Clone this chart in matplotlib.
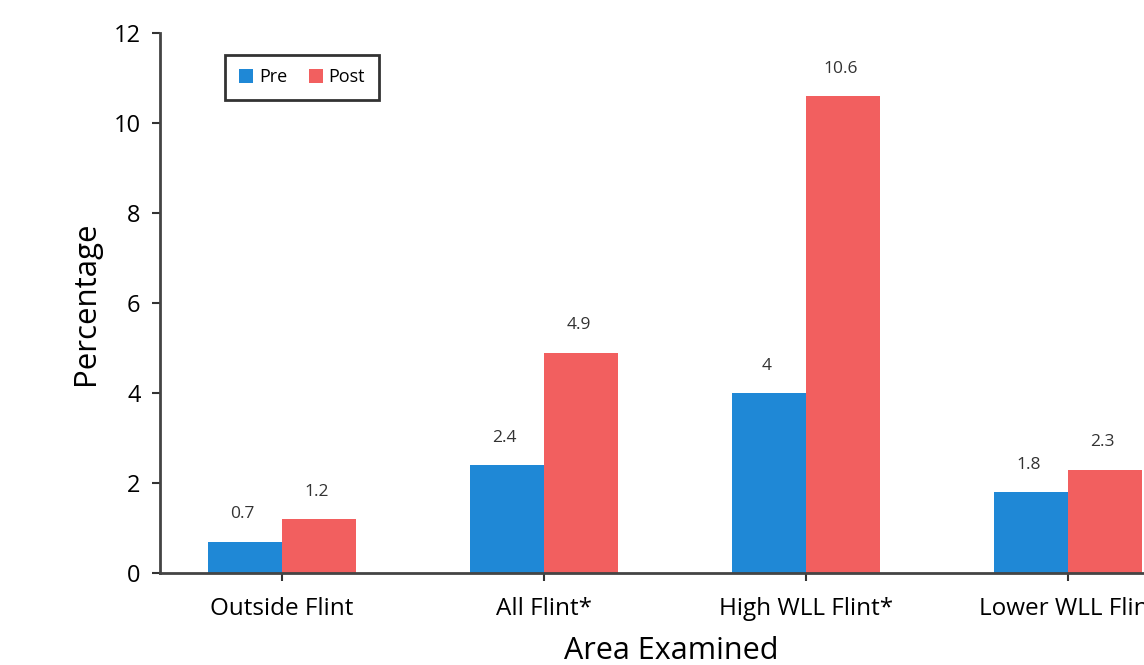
import numpy as np
from matplotlib import pyplot as plt

# ============================== Data =============================== #
categories = ["Outside Flint", "All Flint*", "High WLL Flint*", "Lower WLL Flint"]
pre = [0.7, 2.4, 4.0, 1.8]
post = [1.2, 4.9, 10.6, 2.3]
pre_labels = ["0.7", "2.4", "4", "1.8"]
post_labels = ["1.2", "4.9", "10.6", "2.3"]
# =================================================================== #

plt.rcParams['font.family'] = ['Open Sans', 'DejaVu Sans']
wt = 'medium'

fig = plt.figure(figsize=(11.44, 6.65), dpi=100)
# the plot area runs past the right edge of the figure
ax = fig.add_axes([160 / 1144, 92 / 665, (1182 - 160) / 1144, 540 / 665])

x = np.arange(len(categories))
w = 0.283
c_pre = '#1f88d6'
c_post = '#f25f5f'

ax.bar(x - w / 2, pre, w, color=c_pre, label='Pre')
ax.bar(x + w / 2, post, w, color=c_post, label='Post')

for xi, v, s in zip(x - w / 2, pre, pre_labels):
    ax.annotate(s, (xi, v), xytext=(-2, 14), textcoords='offset points',
                ha='center', va='bottom', fontsize=12.5, fontweight=wt,
                color='#333333')
for xi, v, s in zip(x + w / 2, post, post_labels):
    ax.annotate(s, (xi, v), xytext=(-2, 14), textcoords='offset points',
                ha='center', va='bottom', fontsize=12.5, fontweight=wt,
                color='#333333')

ax.set_xlim(-0.466, 3.435)
ax.set_ylim(0, 12)
ax.set_yticks([0, 2, 4, 6, 8, 10, 12])
ax.set_xticks(x)
ax.set_xticklabels(categories, fontsize=17.5, fontweight=wt)
for lbl in ax.get_yticklabels():
    lbl.set_fontweight(wt)
ax.tick_params(axis='y', labelsize=17, length=6, width=1.5, color='#333333', pad=8)
ax.tick_params(axis='x', length=6, width=1.5, color='#333333', pad=11)

for side in ['top', 'right']:
    ax.spines[side].set_visible(False)
for side in ['left', 'bottom']:
    ax.spines[side].set_linewidth(2)
    ax.spines[side].set_color('#444444')

ax.set_ylabel('Percentage', fontsize=22.5, labelpad=9)
ax.set_xlabel('Area Examined', fontsize=22, labelpad=11)

leg = ax.legend(loc='upper left', bbox_to_anchor=(0.064, 0.96), ncol=2,
                prop={'size': 13, 'weight': wt},
                handlelength=0.8, handleheight=0.8,
                handletextpad=0.3, columnspacing=1.2, fancybox=False,
                borderpad=0.75, borderaxespad=0)
leg.get_frame().set_edgecolor('black')
leg.get_frame().set_linewidth(2)

plt.savefig('out.png', dpi=100)
